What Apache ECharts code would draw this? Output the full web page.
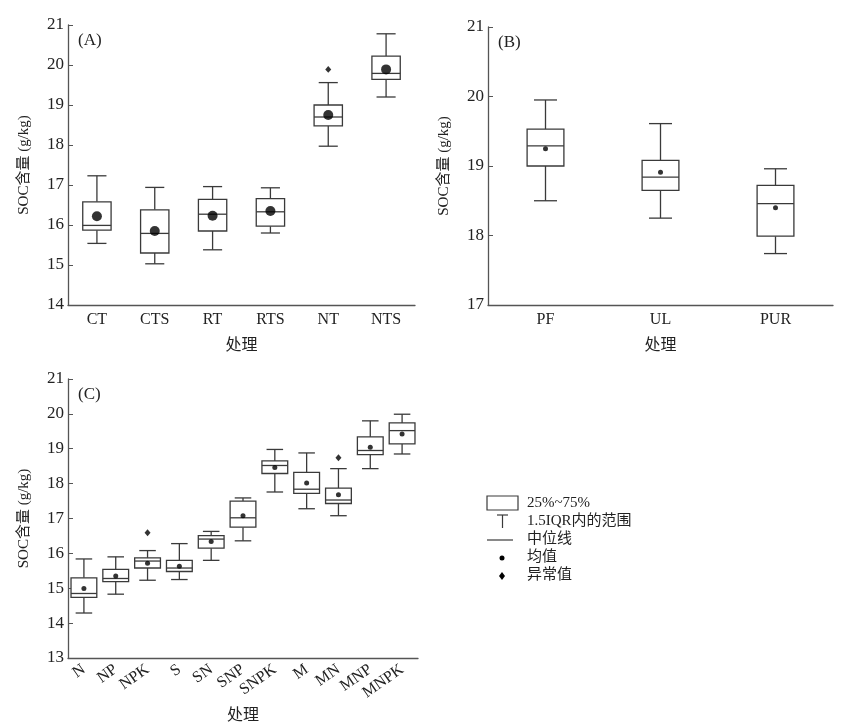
<!DOCTYPE html>
<html>
  <head>
    <meta charset="utf-8" />
    <title>SOC boxplots</title>
    <script src="https://cdn.jsdelivr.net/npm/echarts@6/dist/echarts.min.js"></script>
  </head>
  <body style="margin:0;background:#fff">
    <div id="main" style="width: 841px; height: 725px"></div>
    <script type="text/javascript">
      var myChart = echarts.init(document.getElementById("main"));

      // [min, Q1, median, Q3, max]
      var catsA = ["CT", "CTS", "RT", "RTS", "NT", "NTS"];
      var boxA = [
        [15.54, 15.87, 15.99, 16.58, 17.23],
        [15.03, 15.3, 15.79, 16.38, 16.94],
        [15.38, 15.85, 16.27, 16.64, 16.96],
        [15.8, 15.97, 16.33, 16.66, 16.93],
        [17.97, 18.48, 18.7, 19.0, 19.56],
        [19.2, 19.64, 19.79, 20.22, 20.78]
      ];
      var meanA = [16.22, 15.85, 16.23, 16.35, 18.75, 19.89];
      var outA = [["NT", 19.89]];

      var catsB = ["PF", "UL", "PUR"];
      var boxB = [
        [18.5, 19.0, 19.29, 19.53, 19.95],
        [18.25, 18.65, 18.84, 19.08, 19.61],
        [17.74, 17.99, 18.46, 18.72, 18.96]
      ];
      var meanB = [19.25, 18.91, 18.4];

      var catsC = ["N", "NP", "NPK", "S", "SN", "SNP", "SNPK", "M", "MN", "MNP", "MNPK"];
      var boxC = [
        [14.29, 14.74, 14.85, 15.3, 15.84],
        [14.83, 15.19, 15.28, 15.54, 15.9],
        [15.23, 15.58, 15.78, 15.87, 16.08],
        [15.25, 15.48, 15.58, 15.8, 16.28],
        [15.8, 16.15, 16.41, 16.51, 16.63],
        [16.36, 16.75, 17.02, 17.5, 17.59],
        [17.76, 18.29, 18.52, 18.65, 18.98],
        [17.28, 17.72, 17.84, 18.32, 18.88],
        [17.08, 17.43, 17.53, 17.87, 18.43],
        [18.43, 18.83, 18.95, 19.34, 19.8],
        [18.85, 19.14, 19.52, 19.74, 19.99]
      ];
      var meanC = [14.99, 15.35, 15.72, 15.63, 16.34, 17.08, 18.46, 18.02, 17.68, 19.04, 19.42];
      var outC = [["NPK", 16.59], ["MN", 18.74]];

      var FONT = "'Liberation Serif', 'Noto Sans CJK SC', serif";
      var LINE = "#3a3a3a";

      function boxRender(boxRatio, capRatio) {
        return function (params, api) {
          var i = api.value(0);
          var bw = api.size([1, 0])[0] * boxRatio;
          var cw = api.size([1, 0])[0] * capRatio;
          var pMin = api.coord([i, api.value(1)]);
          var pQ1 = api.coord([i, api.value(2)]);
          var pMed = api.coord([i, api.value(3)]);
          var pQ3 = api.coord([i, api.value(4)]);
          var pMax = api.coord([i, api.value(5)]);
          var x = pMed[0];
          var st = { stroke: LINE, lineWidth: 1.3, fill: null };
          return {
            type: "group",
            children: [
              { type: "line", shape: { x1: x, y1: pMax[1], x2: x, y2: pQ3[1] }, style: st },
              { type: "line", shape: { x1: x, y1: pQ1[1], x2: x, y2: pMin[1] }, style: st },
              { type: "line", shape: { x1: x - cw / 2, y1: pMax[1], x2: x + cw / 2, y2: pMax[1] }, style: st },
              { type: "line", shape: { x1: x - cw / 2, y1: pMin[1], x2: x + cw / 2, y2: pMin[1] }, style: st },
              { type: "rect", shape: { x: x - bw / 2, y: pQ3[1], width: bw, height: pQ1[1] - pQ3[1] }, style: { stroke: LINE, lineWidth: 1.3, fill: "#fff" } },
              { type: "line", shape: { x1: x - bw / 2, y1: pMed[1], x2: x + bw / 2, y2: pMed[1] }, style: st }
            ]
          };
        };
      }

      function boxData(box) {
        return box.map(function (b, i) { return [i].concat(b); });
      }

      function xAxisOf(idx, cats, gap, rotate) {
        return {
          type: "category",
          gridIndex: idx,
          data: cats,
          name: "处理",
          nameLocation: "middle",
          nameGap: gap,
          nameTextStyle: { fontFamily: FONT, fontSize: 16, color: "#222" },
          axisLine: { lineStyle: { color: "#555", width: 1.3 } },
          axisTick: { inside: true, alignWithLabel: true, length: 5, lineStyle: { color: "#555" } },
          axisLabel: {
            fontFamily: FONT, fontSize: 16, color: "#222", margin: rotate ? 10 : 7,
            rotate: rotate || 0, interval: 0
          },
          splitLine: { show: false }
        };
      }

      function yAxisOf(idx, min, max) {
        return {
          type: "value",
          gridIndex: idx,
          min: min,
          max: max,
          interval: 1,
          name: "SOC含量 (g/kg)",
          nameLocation: "middle",
          nameGap: 36,
          nameTextStyle: { fontFamily: FONT, fontSize: 15, color: "#222" },
          axisLine: { show: true, lineStyle: { color: "#555", width: 1.3 } },
          axisTick: { show: true, inside: true, length: 5, lineStyle: { color: "#555" } },
          axisLabel: { fontFamily: FONT, fontSize: 17, color: "#222", margin: 4 },
          splitLine: { show: false }
        };
      }

      function meanSeries(idx, cats, means, size) {
        return {
          type: "scatter",
          xAxisIndex: idx,
          yAxisIndex: idx,
          symbol: "circle",
          symbolSize: size,
          itemStyle: { color: "#000" },
          z: 5,
          data: means.map(function (v, i) { return [cats[i], v]; })
        };
      }

      function outSeries(idx, outs, size) {
        return {
          type: "scatter",
          xAxisIndex: idx,
          yAxisIndex: idx,
          symbol: "diamond",
          symbolSize: [size, size * 1.15],
          itemStyle: { color: "#000" },
          z: 5,
          data: outs
        };
      }

      var txt = { fontFamily: FONT, fontSize: 15, fill: "#222", textVerticalAlign: "middle" };

      option = {
        animation: false,
        backgroundColor: "#fff",
        grid: [
          { left: 68, top: 25, width: 347, height: 280 },
          { left: 488, top: 27, width: 345, height: 278 },
          { left: 68, top: 379, width: 350, height: 283 }
        ],
        xAxis: [
          xAxisOf(0, catsA, 33),
          xAxisOf(1, catsB, 33),
          xAxisOf(2, catsC, 50, 35)
        ],
        yAxis: [yAxisOf(0, 14, 21), yAxisOf(1, 17, 21), yAxisOf(2, 13, 21)],
        series: [
          { type: "custom", xAxisIndex: 0, yAxisIndex: 0, renderItem: boxRender(0.49, 0.33), data: boxData(boxA), encode: { x: 0, y: [1, 2, 3, 4, 5] } },
          meanSeries(0, catsA, meanA, 10),
          outSeries(0, outA, 6),
          { type: "custom", xAxisIndex: 1, yAxisIndex: 1, renderItem: boxRender(0.32, 0.2), data: boxData(boxB), encode: { x: 0, y: [1, 2, 3, 4, 5] } },
          meanSeries(1, catsB, meanB, 5),
          { type: "custom", xAxisIndex: 2, yAxisIndex: 2, renderItem: boxRender(0.81, 0.52), data: boxData(boxC), encode: { x: 0, y: [1, 2, 3, 4, 5] } },
          meanSeries(2, catsC, meanC, 5),
          outSeries(2, outC, 6)
        ],
        graphic: [
          { type: "text", left: 78, top: 32, style: { text: "(A)", font: "17px 'Liberation Serif'", fill: "#222" } },
          { type: "text", left: 498, top: 34, style: { text: "(B)", font: "17px 'Liberation Serif'", fill: "#222" } },
          { type: "text", left: 78, top: 386, style: { text: "(C)", font: "17px 'Liberation Serif'", fill: "#222" } },
          // legend
          { type: "rect", shape: { x: 487, y: 496, width: 31, height: 14 }, style: { stroke: LINE, lineWidth: 1.2, fill: "#fff" } },
          { type: "text", x: 527, y: 503, style: Object.assign({ text: "25%~75%" }, txt) },
          { type: "line", shape: { x1: 497, y1: 515, x2: 508, y2: 515 }, style: { stroke: LINE, lineWidth: 1.2 } },
          { type: "line", shape: { x1: 502.5, y1: 515, x2: 502.5, y2: 528 }, style: { stroke: LINE, lineWidth: 1.2 } },
          { type: "text", x: 527, y: 521, style: Object.assign({ text: "1.5IQR内的范围" }, txt) },
          { type: "line", shape: { x1: 487, y1: 540, x2: 513, y2: 540 }, style: { stroke: LINE, lineWidth: 1.2 } },
          { type: "text", x: 527, y: 539, style: Object.assign({ text: "中位线" }, txt) },
          { type: "circle", shape: { cx: 502, cy: 558, r: 2.5 }, style: { fill: "#000" } },
          { type: "text", x: 527, y: 557, style: Object.assign({ text: "均值" }, txt) },
          { type: "polygon", shape: { points: [[502, 572], [505, 576], [502, 580], [499, 576]] }, style: { fill: "#000" } },
          { type: "text", x: 527, y: 575, style: Object.assign({ text: "异常值" }, txt) }
        ]
      };

      myChart.setOption(option);
    </script>
  </body>
</html>
